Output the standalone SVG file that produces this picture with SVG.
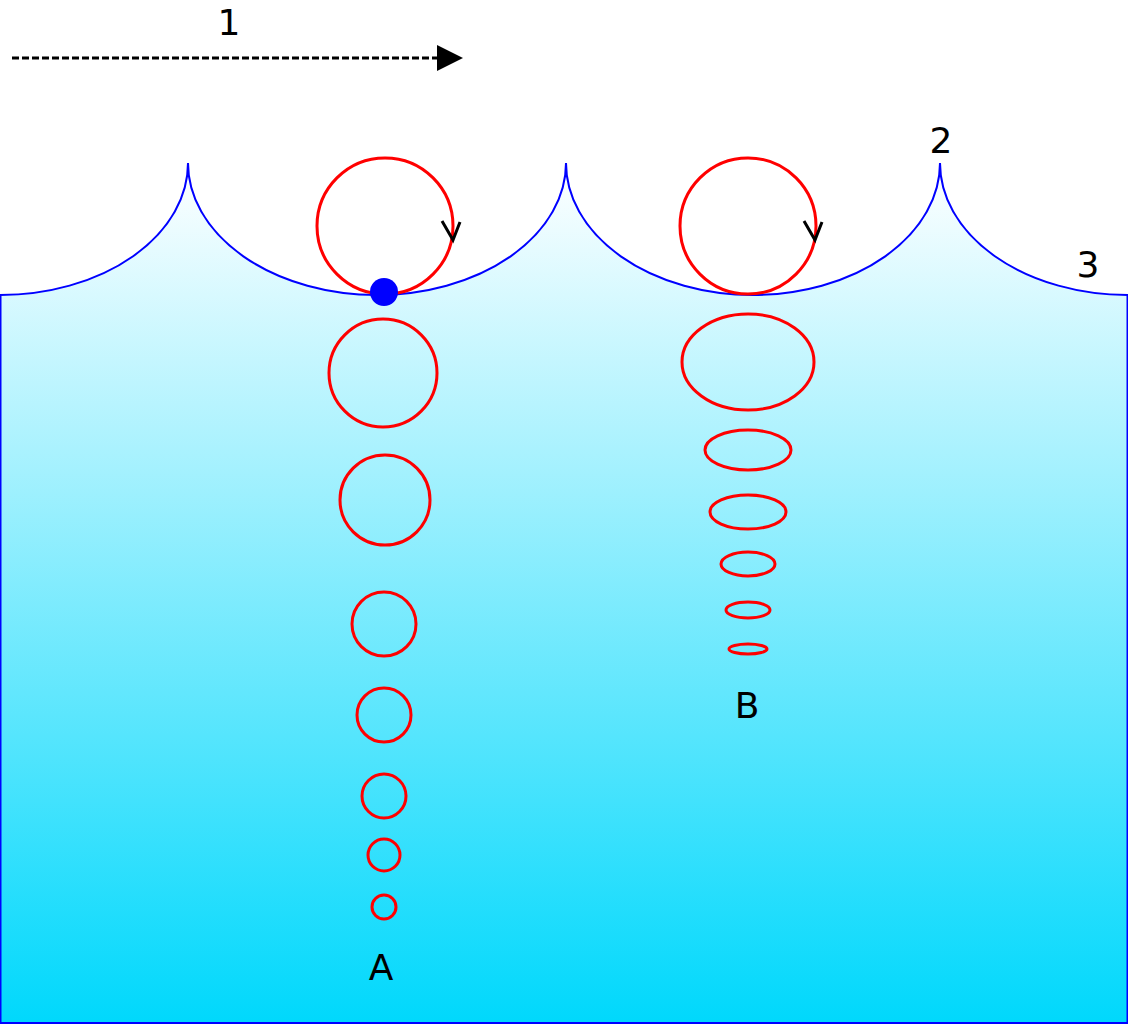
<svg xmlns="http://www.w3.org/2000/svg" width="1128" height="1024" viewBox="0 0 1128 1024">
<defs>
<linearGradient id="g" x1="0" y1="163" x2="0" y2="1023" gradientUnits="userSpaceOnUse">
<stop offset="0" stop-color="#ffffff"/><stop offset="1" stop-color="#00d8fc"/>
</linearGradient>
<marker id="ah" markerWidth="8" markerHeight="8" refX="2" refY="4" orient="auto" markerUnits="userSpaceOnUse" viewBox="0 0 8 8"><path d="M0,0L8,4L0,8z"/></marker>
<style>
.o{fill:none;stroke:#ff0000;stroke-width:3}
.t{font-family:"DejaVu Sans",sans-serif;font-size:36px;fill:#000;text-anchor:middle}
.ch{fill:none;stroke:#000;stroke-width:3}
</style>
</defs>
<rect width="1128" height="1024" fill="#fff"/>
<path d="M0.5,295 A188,132 0 0 0 188,163 A189,132 0 0 0 377,295 A189,132 0 0 0 566,163 A187,132 0 0 0 753,295 A187,132 0 0 0 940,163 A188,132 0 0 0 1127.5,295 L1127.5,1023 L0.5,1023 Z" fill="url(#g)" stroke="#0000ff" stroke-width="2"/>
<g id="arrow1">
<line x1="12" y1="58" x2="438" y2="58" stroke="#000" stroke-width="3" stroke-dasharray="7,3"/>
<path d="M437,45 L463,58 L437,71 Z" fill="#000"/>
</g>
<g id="columnA">
<circle class="o" cx="385" cy="226" r="68"/>
<polyline class="ch" points="442,221 453,240 460,222"/>
<circle cx="384" cy="292" r="14" fill="#0000ff"/>
<circle class="o" cx="383" cy="373" r="54"/>
<circle class="o" cx="385" cy="500" r="45"/>
<circle class="o" cx="384" cy="624" r="32"/>
<circle class="o" cx="384" cy="715" r="27"/>
<circle class="o" cx="384" cy="796" r="22"/>
<circle class="o" cx="384" cy="855" r="16"/>
<circle class="o" cx="384" cy="907" r="12"/>
</g>
<g id="columnB">
<circle class="o" cx="748" cy="226" r="68"/>
<polyline class="ch" points="804,221 815,240 822,222"/>
<ellipse class="o" cx="748" cy="362" rx="66" ry="48"/>
<ellipse class="o" cx="748" cy="450" rx="43" ry="20"/>
<ellipse class="o" cx="748" cy="512" rx="38" ry="17"/>
<ellipse class="o" cx="748" cy="564" rx="27" ry="12"/>
<ellipse class="o" cx="748" cy="610" rx="22" ry="8"/>
<ellipse class="o" cx="748" cy="649" rx="19" ry="5"/>
</g>
<g id="labels">
<text class="t" x="229" y="35">1</text>
<text class="t" x="941" y="153">2</text>
<text class="t" x="1088" y="277">3</text>
<text class="t" x="381" y="980">A</text>
<text class="t" x="747" y="718">B</text>
</g>
</svg>
